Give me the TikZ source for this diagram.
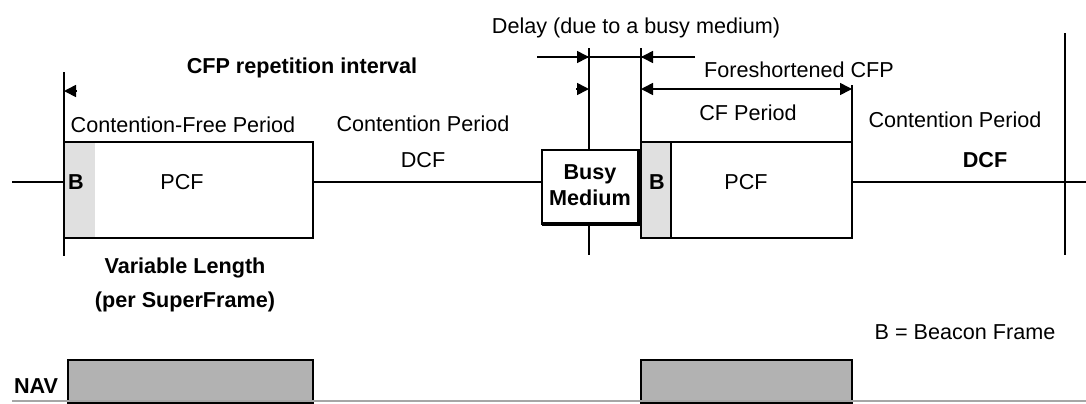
\documentclass[tikz,border=0pt]{standalone}
\usepackage{fontspec}
\setmainfont{Liberation Sans}
\usetikzlibrary{arrows.meta}

\begin{document}
\begin{tikzpicture}[
    x=0.5pt, y=-0.5pt,
    >={Triangle[length=6pt, width=6pt]},
    line width=0.8pt,
    lbl/.style={font=\fontsize{10.8}{13}\selectfont, inner sep=0pt, align=center},
    blbl/.style={font=\fontsize{10.8}{13}\selectfont\bfseries, inner sep=0pt, align=center},
    frame/.style={rectangle, draw, anchor=north west, inner sep=0pt, outer sep=0pt, minimum height=48pt},
    beacon/.style={rectangle, fill=black!12, anchor=north west, inner sep=0pt, outer sep=0pt, minimum width=15.5pt, minimum height=48pt},
    nav/.style={rectangle, draw, fill=black!30, anchor=north west, inner sep=0pt, outer sep=0pt, minimum height=21.5pt},
]
\useasboundingbox (0,0) rectangle (1086,403);

% ---- Frames on the medium ----
\node[beacon] (bcn1) at (64,142) {};
\node[frame, minimum width=124.5pt] (cfp1) at (64,142) {};
\node[frame, minimum width=48.5pt, minimum height=37pt] (busy) at (542,150) {};
\node[beacon, draw, minimum width=15pt] (bcn2) at (641,142) {};
\node[frame, minimum width=105.5pt] (cfp2) at (641,142) {};
\draw[line width=2pt] (busy.south west) -- (busy.south east) -- (busy.north east);

% ---- Time line ----
\coordinate (tl0) at (12,182);
\coordinate (tl1) at (1086,182);
\draw (tl0) -- (cfp1.west |- tl0);
\draw (cfp1.east |- tl0) -- (busy.west |- tl0);
\draw (cfp2.east |- tl0) -- (tl1);

% ---- Markers ----
\coordinate (m0t) at (64,72);
\coordinate (m0b) at (64,256);
\coordinate (m1t) at (589,48);
\coordinate (m1b) at (589,255);
\coordinate (m2t) at (641,48);
\coordinate (m3t) at (852,85);
\coordinate (m4t) at (1065,33);
\coordinate (m4b) at (1065,255);
\draw (m0t) -- (m0b);
\draw (m1t) -- (m1t |- busy.north);
\draw (m1t |- busy.south) -- (m1b);
\draw (m2t) -- (m2t |- cfp2.north);
\draw (m3t) -- (m3t |- cfp2.north);
\draw (m4t) -- (m4b);

% ---- Delay ----
\coordinate (dl) at (537,57);
\coordinate (dr) at (695,57);
\draw (dl) -- (dr);
\draw[->] (dl) -- (m1t |- dl);
\draw[->] (dr) -- (m2t |- dl);

% ---- Repetition and foreshortened CFP ----
\coordinate (fs) at (700,89);
\coordinate (r0) at (64,91);
\coordinate (r1) at (589,89);
\draw[->] ([xshift=6.5pt]r0) -- (r0);
\draw[->] ([xshift=-6.5pt]r1) -- (r1);
\draw[<->] (m2t |- fs) -- (m3t |- fs);

% ---- NAV ----
\node[nav, minimum width=122.5pt] (nav1) at (68,360) {};
\node[nav, minimum width=105.5pt] (nav2) at (641,360) {};
\coordinate (bl0) at (12,401);
\coordinate (bl1) at (1086,401);
\draw[black!35, line width=1pt] (bl0) -- (bl1);

% ---- Labels ----
\node[blbl] (rep) at (302,68) {CFP repetition interval};
\node[lbl] (cfpl) at (183,125) {Contention-Free Period};
\node[lbl] (cpl) at (423,124) {Contention Period};
\node[lbl] (dcfl) at (423,160) {DCF};
\node[blbl] (b1) at (76,182) {B};
\node[lbl] (pcf1) at (182,182) {PCF};
\node[blbl] (busyl) at (590,185) {Busy\\Medium};
\node[blbl] (b2) at (657,182) {B};
\node[lbl] (pcf2) at (746,182) {PCF};
\node[lbl] (delay) at (636,28) {Delay (due to a busy medium)};
\node[lbl] (fsl) at (799,70) {Foreshortened CFP};
\node[lbl] (cfper) at (748,113) {CF Period};
\node[lbl] (cpr) at (955,120) {Contention Period};
\node[blbl] (dcfr) at (985,160) {DCF};
\node[blbl] (varl) at (185,268) {Variable Length};
\node[blbl] (perl) at (185,302) {(per SuperFrame)};
\node[lbl] (key) at (965,332) {B = Beacon Frame};
\node[blbl] (navl) at (36,386) {NAV};

\end{tikzpicture}
\end{document}
